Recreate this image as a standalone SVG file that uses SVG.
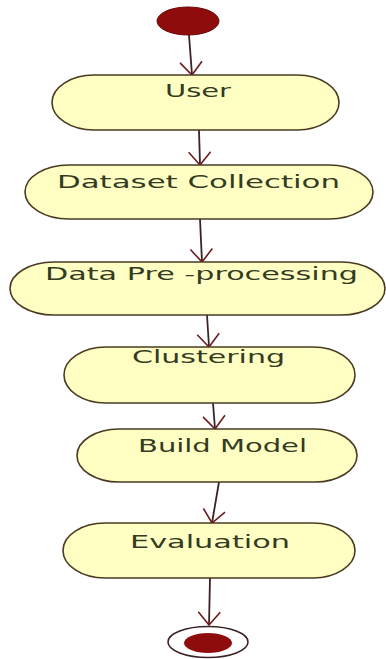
<svg xmlns="http://www.w3.org/2000/svg" width="386" height="659" viewBox="0 0 386 659">
  <style>
    .box { fill: #ffffc4; stroke: #4a3a22; stroke-width: 1.6; }
    .lbl { font-family: "DejaVu Sans", Verdana, sans-serif; font-size: 17px; fill: #333b22; }
    .edge { stroke: #3a2426; stroke-width: 1.8; fill: none; }
    .head { stroke: #6e1b1e; stroke-width: 1.6; fill: none; }
  </style>
  <defs>
    <marker id="arr" markerUnits="userSpaceOnUse" markerWidth="30" markerHeight="30" refX="0" refY="0" viewBox="-15 -15 30 30" orient="auto" overflow="visible">
      <path class="head" d="M -13 -11 L 0 0 L -13 11"/>
    </marker>
  </defs>
  <rect width="386" height="659" fill="#ffffff"/>

  <g id="connectors">
    <line class="edge" x1="189" y1="35" x2="192" y2="75" marker-end="url(#arr)"/>
    <line class="edge" x1="199" y1="130" x2="200" y2="165" marker-end="url(#arr)"/>
    <line class="edge" x1="200" y1="219" x2="202" y2="262" marker-end="url(#arr)"/>
    <line class="edge" x1="207" y1="315" x2="209" y2="347" marker-end="url(#arr)"/>
    <line class="edge" x1="213" y1="403" x2="215" y2="429" marker-end="url(#arr)"/>
    <line class="edge" x1="219" y1="482" x2="212" y2="523" marker-end="url(#arr)"/>
    <line class="edge" x1="210" y1="578" x2="209" y2="625" marker-end="url(#arr)"/>
  </g>

  <g id="start">
    <ellipse cx="188" cy="21" rx="31" ry="14" fill="#8e0c0c" stroke="#6a0808" stroke-width="1"/>
  </g>

  <g id="user">
    <rect class="box" x="52" y="75" width="287" height="55" rx="42" ry="27.5"/>
    <text class="lbl" x="165" y="97" textLength="66" lengthAdjust="spacingAndGlyphs">User</text>
  </g>

  <g id="dataset-collection">
    <rect class="box" x="25" y="165" width="348" height="54" rx="44" ry="27"/>
    <text class="lbl" x="57" y="188" textLength="283" lengthAdjust="spacingAndGlyphs">Dataset Collection</text>
  </g>

  <g id="data-preprocessing">
    <rect class="box" x="10" y="262" width="375" height="53" rx="44" ry="26.5"/>
    <text class="lbl" x="45" y="280" textLength="313" lengthAdjust="spacingAndGlyphs">Data Pre -processing</text>
  </g>

  <g id="clustering">
    <rect class="box" x="64" y="347" width="291" height="56" rx="42" ry="28"/>
    <text class="lbl" x="132" y="363" textLength="153" lengthAdjust="spacingAndGlyphs">Clustering</text>
  </g>

  <g id="build-model">
    <rect class="box" x="77" y="429" width="280" height="53" rx="42" ry="26.5"/>
    <text class="lbl" x="138" y="452" textLength="169" lengthAdjust="spacingAndGlyphs">Build Model</text>
  </g>

  <g id="evaluation">
    <rect class="box" x="63" y="523" width="292" height="55" rx="42" ry="27.5"/>
    <text class="lbl" x="130" y="548" textLength="160" lengthAdjust="spacingAndGlyphs">Evaluation</text>
  </g>

  <g id="end">
    <ellipse cx="208" cy="642" rx="40" ry="15.5" fill="#ffffff" stroke="#3a2426" stroke-width="1.6"/>
    <ellipse cx="208" cy="643" rx="24" ry="10" fill="#8e0c0c"/>
  </g>
</svg>
